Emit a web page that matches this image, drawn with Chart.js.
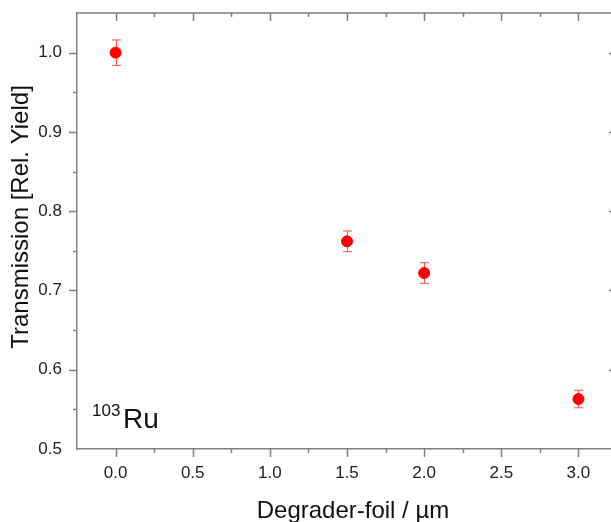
<!DOCTYPE html>
<html>
<head>
<meta charset="utf-8">
<script src="https://cdn.jsdelivr.net/npm/chart.js@4"></script>
<style>
  html, body { margin: 0; padding: 0; background: #fff; overflow: hidden; }
  canvas { display: block; }
</style>
</head>
<body>
<canvas id="grafico" width="618" height="522"></canvas>
<script>
// Datos
const espesores = [0.0, 1.5, 2.0, 3.0];          // Degrader-foil / µm
const transmision = [1.000, 0.762, 0.722, 0.563]; // Rel. Yield
const errores = [0.016, 0.013, 0.013, 0.011];

const tituloX = "Degrader-foil / µm";
const tituloY = "Transmission [Rel. Yield]";

const fuente = "'Liberation Sans', Arial, sans-serif";
const colorEje = "#808080";

function esMayor(v, paso) {
    return Math.abs(Math.round(v / paso) * paso - v) < 1e-6;
}

// Barras de error, ejes superior/derecho, marcas menores, títulos y etiqueta
const extras = {
    id: "extras",
    beforeDatasetsDraw(chart) {
        const ctx = chart.ctx;
        const xs = chart.scales.x, ys = chart.scales.y;
        ctx.save();
        ctx.strokeStyle = "#ff5050";
        ctx.lineWidth = 1;
        espesores.forEach((x, i) => {
            const px = Math.round(xs.getPixelForValue(x)) + 0.5;
            const y1 = ys.getPixelForValue(transmision[i] + errores[i]);
            const y2 = ys.getPixelForValue(transmision[i] - errores[i]);
            ctx.beginPath();
            ctx.moveTo(px, y1); ctx.lineTo(px, y2);
            ctx.moveTo(px - 4.5, y1); ctx.lineTo(px + 4.5, y1);
            ctx.moveTo(px - 4.5, y2); ctx.lineTo(px + 4.5, y2);
            ctx.stroke();
        });
        ctx.restore();
    },
    afterDraw(chart) {
        const ctx = chart.ctx;
        const { left, right, top, bottom } = chart.chartArea;
        const xs = chart.scales.x, ys = chart.scales.y;
        ctx.save();
        ctx.strokeStyle = colorEje;
        ctx.lineWidth = 1.5;
        ctx.beginPath();
        ctx.moveTo(left, top); ctx.lineTo(right, top);
        ctx.moveTo(right, top); ctx.lineTo(right, bottom);
        ctx.stroke();

        ctx.beginPath();
        xs.ticks.forEach(t => {
            if (t.value <= xs.min + 1e-6 || t.value >= xs.max - 1e-6) return;
            const px = Math.round(xs.getPixelForValue(t.value)) + 0.5;
            const len = esMayor(t.value, 0.5) ? 8 : 4;
            ctx.moveTo(px, bottom); ctx.lineTo(px, bottom + len);
            ctx.moveTo(px, top); ctx.lineTo(px, top + len);
        });
        ys.ticks.forEach(t => {
            if (t.value <= ys.min + 1e-6 || t.value >= ys.max - 1e-6) return;
            const py = Math.round(ys.getPixelForValue(t.value)) + 0.5;
            const len = esMayor(t.value, 0.1) ? 8 : 4;
            ctx.moveTo(left - len, py); ctx.lineTo(left, py);
            ctx.moveTo(right - len, py); ctx.lineTo(right, py);
        });
        ctx.stroke();

        // Títulos de los ejes
        ctx.fillStyle = "#111";
        ctx.textBaseline = "alphabetic";
        ctx.textAlign = "center";
        ctx.font = "24px " + fuente;
        ctx.fillText(tituloX, 353, 518);
        ctx.save();
        ctx.translate(28, 217);
        ctx.rotate(-Math.PI / 2);
        ctx.fillText(tituloY, 0, 0);
        ctx.restore();

        // Etiqueta del isótopo
        ctx.textAlign = "left";
        ctx.font = "17px " + fuente;
        ctx.fillText("103", left + 15, bottom - 33);
        ctx.font = "28px " + fuente;
        ctx.fillText("Ru", left + 46, bottom - 21);
        ctx.restore();
    }
};

const ctxGrafico = document.getElementById("grafico").getContext("2d");
const grafico = new Chart(ctxGrafico, {
    type: "scatter",
    data: {
        datasets: [
            {
                data: espesores.map((x, i) => ({ x: x, y: transmision[i] })),
                backgroundColor: "#ff0000",
                borderColor: "#ff0000",
                pointRadius: 5.5,
                pointHoverRadius: 5.5,
                showLine: false,
            },
        ],
    },
    options: {
        responsive: false,
        animation: false,
        layout: { autoPadding: false, padding: { top: 13, right: 1, left: 0, bottom: 0 } },
        plugins: { legend: { display: false }, tooltip: { enabled: false } },
        scales: {
            x: {
                type: "linear",
                min: -0.25,
                max: 3.25,
                afterFit: s => { s.height = 73; s.paddingLeft = 0; s.paddingRight = 0; },
                ticks: {
                    stepSize: 0.25,
                    autoSkip: false,
                    maxRotation: 0,
                    padding: 6,
                    color: "#222",
                    font: { family: fuente, size: 17 },
                    callback: v => esMayor(v, 0.5) ? v.toFixed(1) : "",
                },
                grid: { drawOnChartArea: false, tickLength: 8, tickColor: "rgba(0,0,0,0)" },
                border: { color: colorEje, width: 1.5 },
            },
            y: {
                min: 0.5,
                max: 1.05,
                afterFit: s => { s.width = 77; s.paddingTop = 0; s.paddingBottom = 0; },
                ticks: {
                    stepSize: 0.05,
                    autoSkip: false,
                    padding: 7,
                    color: "#222",
                    font: { family: fuente, size: 17 },
                    callback: v => esMayor(v, 0.1) ? v.toFixed(1) : "",
                },
                grid: { drawOnChartArea: false, tickLength: 8, tickColor: "rgba(0,0,0,0)" },
                border: { color: colorEje, width: 1.5 },
            },
        },
    },
    plugins: [extras],
});
</script>
</body>
</html>
